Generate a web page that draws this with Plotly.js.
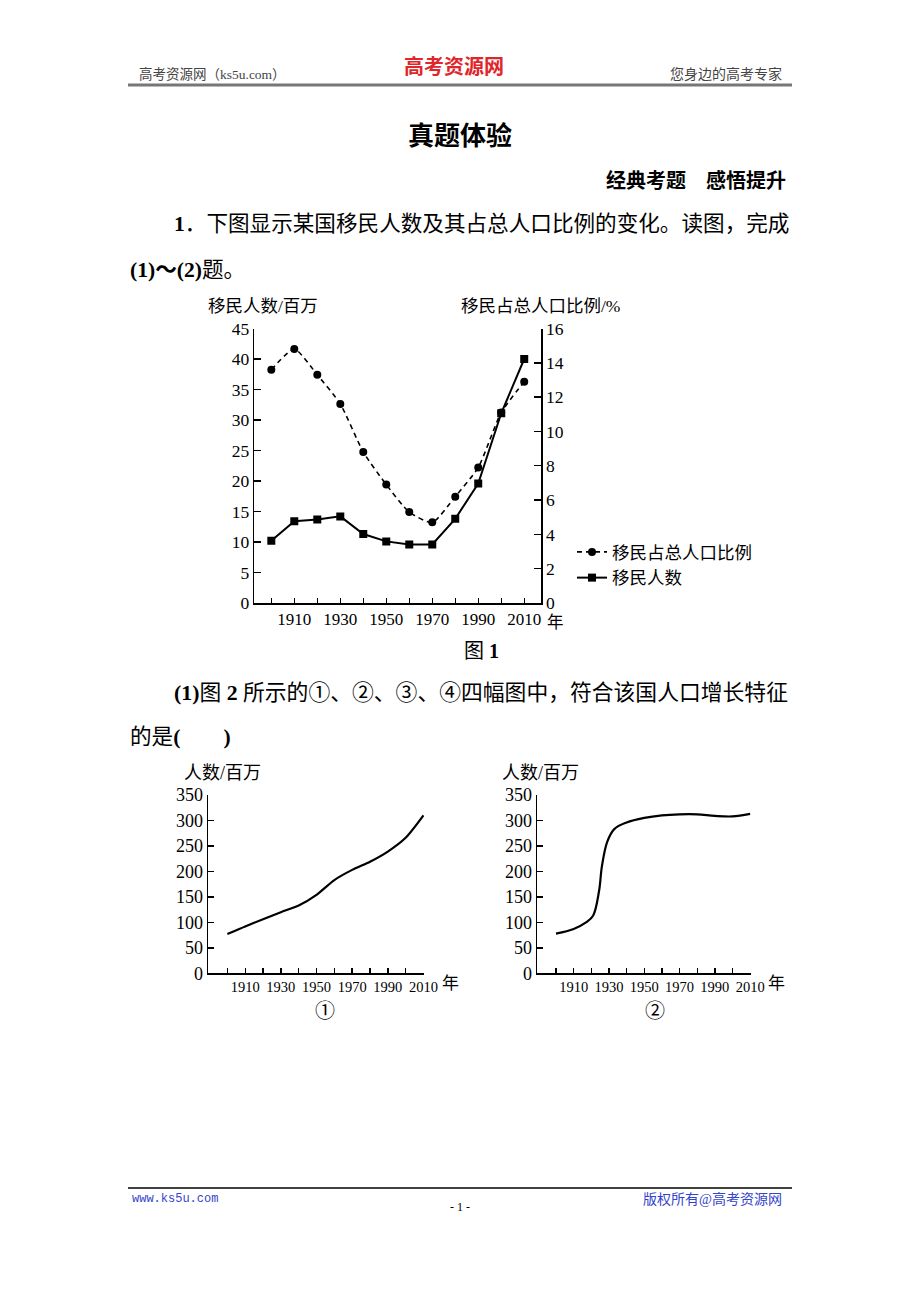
<!DOCTYPE html>
<html><head><meta charset="utf-8">
<script src="https://cdn.plot.ly/plotly-3.0.1.min.js"></script>
<style>html,body{margin:0;padding:0;background:#fff}</style>
</head><body><div id="chart" style="width:920px;height:1302px"></div>
<script>
// ---- data ----
const years = [1900,1910,1920,1930,1940,1950,1960,1970,1980,1990,2000,2010];
const immigrants = [10.2,13.4,13.7,14.2,11.3,10.1,9.6,9.6,13.8,19.6,31.1,40.0];          // 百万
const immigrantShare = [13.6,14.8,13.3,11.6,8.8,6.9,5.3,4.7,6.2,7.9,11.1,12.9];          // %
const xTickLabels = ['','1910','','1930','','1950','','1970','','1990','','2010'];
const popYears1 = [1900,1910,1920,1930,1940,1950,1960,1970,1980,1990,2000,2010];
const pop1 = [77,92,106,120,133,154,183,203,219,239,266,310];
const popYears2 = [1900,1910,1917,1921,1924.4,1926,1929,1933,1940,1950,1960,1970,1980,1990,2000,2010];
const pop2 = [78,87,100,113,162,210,258,283,296,305,310,312,312,309,308,313];
const seriesNames = ['移民占总人口比例','移民人数'];

const W = 920, H = 1302;
const px = x => x / W;
const py = y => 1 - y / H;
const FONT = 'Liberation Serif, Noto Sans CJK SC, serif';
const CJK = 'Liberation Serif, Noto Sans CJK SC, sans-serif';

const traces = [
  {x: years, y: immigrantShare, name: seriesNames[0], xaxis: 'x', yaxis: 'y2', mode: 'lines+markers',
   line: {color: '#000', width: 1.6, dash: '5px,4px', shape: 'spline', smoothing: 0.6},
   marker: {symbol: 'circle', size: 8, color: '#000'}},
  {x: years, y: immigrants, name: seriesNames[1], xaxis: 'x', yaxis: 'y', mode: 'lines+markers',
   line: {color: '#000', width: 2}, marker: {symbol: 'square', size: 8, color: '#000'}},
  {x: popYears1, y: pop1, xaxis: 'x2', yaxis: 'y3', mode: 'lines', showlegend: false,
   line: {color: '#000', width: 2.2, shape: 'spline', smoothing: 0.7}},
  {x: popYears2, y: pop2, xaxis: 'x3', yaxis: 'y4', mode: 'lines', showlegend: false,
   line: {color: '#000', width: 2.2, shape: 'spline', smoothing: 1}}
];

const axBase = {showgrid: false, zeroline: false, showline: true, linecolor: '#000', linewidth: 1.6,
  ticks: 'inside', tickcolor: '#000', tickwidth: 1.4, fixedrange: true};

const smallX = {...axBase, tickvals: years, ticktext: xTickLabels, ticklen: 5,
  tickfont: {family: FONT, size: 14.5, color: '#000'}};
const smallY = {...axBase, range: [0, 350], dtick: 50, ticklen: 6,
  tickfont: {family: FONT, size: 18, color: '#000'}};

function ann(text, x, y, o = {}) {
  return Object.assign({text, x: px(x), y: py(y), xref: 'paper', yref: 'paper', showarrow: false,
    xanchor: 'left', yanchor: 'middle', font: {family: CJK, size: 21, color: '#000'}}, o);
}

const annotations = [
  ann('高考资源网（ks5u.com）', 137, 74, {font: {family: CJK, size: 13.5, color: '#444'}}),
  ann('<b>高考资源网</b>', 454, 66, {xanchor: 'center', font: {family: CJK, size: 20, color: '#e0262b'}}),
  ann('您身边的高考专家', 784, 74, {xanchor: 'right', font: {family: CJK, size: 14, color: '#444'}}),
  ann('<b>真题体验</b>', 460, 137, {xanchor: 'center', font: {family: CJK, size: 26, color: '#000'}}),
  ann('<b>经典考题　感悟提升</b>', 788, 181, {xanchor: 'right', font: {family: CJK, size: 20, color: '#000'}}),
  ann('<b>1</b>．下图显示某国移民人数及其占总人口比例的变化。读图，完成', 172, 224,
      {font: {family: CJK, size: 21.6, color: '#000'}}),
  ann('<b>(1)～(2)</b>题。', 128, 270, {font: {family: CJK, size: 21.6, color: '#000'}}),
  ann('移民人数/百万', 206, 306, {font: {family: CJK, size: 17.5, color: '#000'}}),
  ann('移民占总人口比例/%', 622, 306, {xanchor: 'right', font: {family: CJK, size: 17.5, color: '#000'}}),
  ann('年', 555, 622, {xanchor: 'center', font: {family: CJK, size: 16.5, color: '#000'}}),
  ann('图 <b>1</b>', 481, 651, {xanchor: 'center', font: {family: CJK, size: 20, color: '#000'}}),
  ann('<b>(1)</b>图 <b>2</b> 所示的①、②、③、④四幅图中，符合该国人口增长特征', 172, 693,
      {font: {family: CJK, size: 21.8, color: '#000'}}),
  ann('的是<b>(</b>　　<b>)</b>', 128, 737, {font: {family: CJK, size: 21.6, color: '#000'}}),
  ann('人数/百万', 182, 773, {font: {family: CJK, size: 18, color: '#000'}}),
  ann('人数/百万', 500, 773, {font: {family: CJK, size: 18, color: '#000'}}),
  ann('年', 450, 984, {xanchor: 'center', font: {family: CJK, size: 17, color: '#000'}}),
  ann('年', 776, 984, {xanchor: 'center', font: {family: CJK, size: 17, color: '#000'}}),
  ann('①', 325, 1011, {xanchor: 'center', font: {family: CJK, size: 20, color: '#000'}}),
  ann('②', 655, 1011, {xanchor: 'center', font: {family: CJK, size: 20, color: '#000'}}),
  ann('www.ks5u.com', 130, 1199, {font: {family: 'Liberation Mono, monospace', size: 12, color: '#3344cc'}}),
  ann('- 1 -', 460, 1207, {xanchor: 'center', font: {family: CJK, size: 12, color: '#000'}}),
  ann('版权所有@高考资源网', 784, 1199, {xanchor: 'right', font: {family: CJK, size: 14, color: '#3344cc'}})
];

const shapes = [
  {type: 'line', xref: 'paper', yref: 'paper', x0: px(128), x1: px(792), y0: py(85), y1: py(85),
   line: {color: '#777', width: 3}},
  {type: 'line', xref: 'paper', yref: 'paper', x0: px(128), x1: px(792), y0: py(1188), y1: py(1188),
   line: {color: '#000', width: 1.5}}
];

const layout = {
  width: W, height: H, margin: {l: 0, r: 0, t: 0, b: 0},
  paper_bgcolor: '#fff', plot_bgcolor: 'rgba(0,0,0,0)',
  showlegend: true,
  legend: {x: px(572), y: py(534), xanchor: 'left', yanchor: 'top', bgcolor: 'rgba(0,0,0,0)',
    font: {family: CJK, size: 17.5, color: '#000'}, traceorder: 'normal', itemwidth: 30},
  xaxis: {...axBase, domain: [px(254.3), px(541)], range: [1892.6, 2017.3], anchor: 'y',
    tickvals: years, ticktext: xTickLabels, ticklen: 5,
    tickfont: {family: FONT, size: 17, color: '#000'}},
  yaxis: {...axBase, domain: [py(603), py(328.5)], range: [0, 45], dtick: 5, ticklen: 7, anchor: 'x',
    tickfont: {family: FONT, size: 17.5, color: '#000'}},
  yaxis2: {...axBase, overlaying: 'y', side: 'right', anchor: 'x', range: [0, 16], dtick: 2, ticklen: 7,
    tickfont: {family: FONT, size: 17.5, color: '#000'}},
  xaxis2: {...smallX, domain: [px(208.3), px(424)], range: [1889.3, 2010.3], anchor: 'y3'},
  yaxis3: {...smallY, domain: [py(973.3), py(795)], anchor: 'x2'},
  xaxis3: {...smallX, domain: [px(537.3), px(750.7)], range: [1889.4, 2010.3], anchor: 'y4'},
  yaxis4: {...smallY, domain: [py(973.3), py(795)], anchor: 'x3'},
  annotations, shapes
};

Plotly.newPlot('chart', traces, layout, {staticPlot: true, displayModeBar: false});
</script></body></html>
